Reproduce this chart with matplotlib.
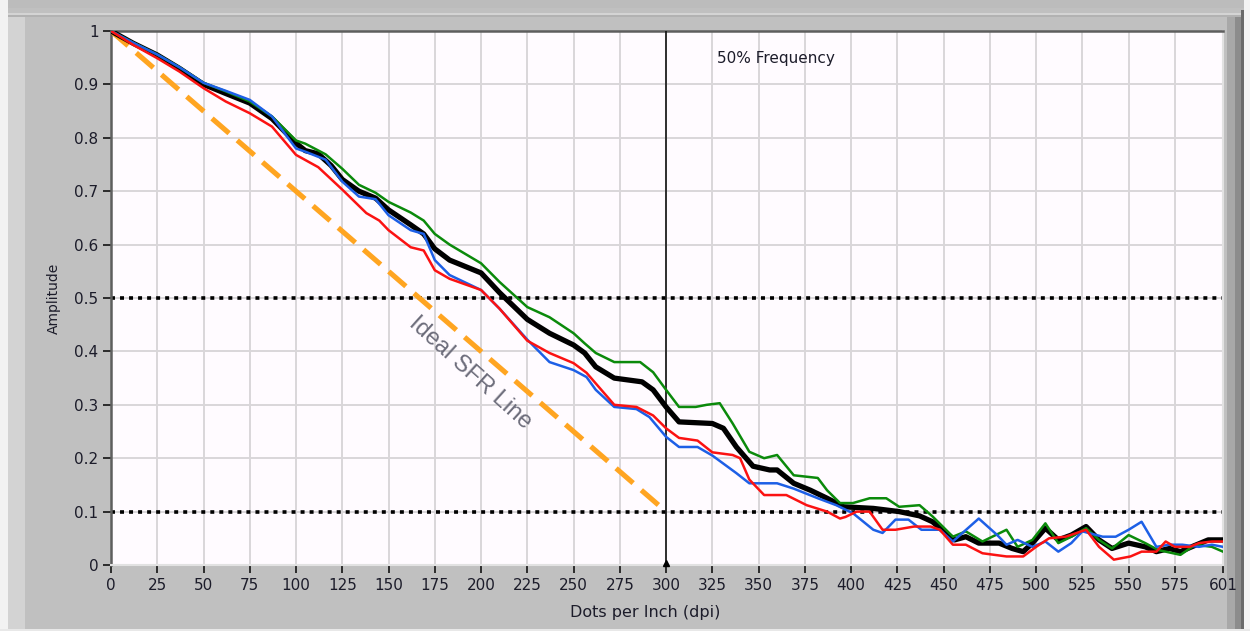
#!/usr/bin/env python3
"""Spatial frequency response (SFR) curves for the three colour channels and their mean."""
from __future__ import annotations

import matplotlib

matplotlib.use("Agg")
import matplotlib.pyplot as plt
from matplotlib.patches import Rectangle

OUTPUT = "out.png"

# mean response (thick black)
MEAN_X = [0, 12, 25, 37, 50, 62, 75, 87, 100, 105, 112, 119, 125, 134, 143, 150, 162, 169,
          175, 183, 200, 210, 225, 237, 250, 256, 262, 272, 287, 293, 300, 307, 325, 331,
          338, 347, 356, 360, 369, 378, 387, 396, 412, 426, 437, 444, 450, 456, 462, 469,
          480, 487, 493, 498, 505, 512, 519, 527, 534, 541, 550, 559, 565, 572, 578, 584,
          593, 601]
MEAN_Y = [1.0, 0.977, 0.955, 0.930, 0.900, 0.883, 0.865, 0.836, 0.790, 0.776, 0.770, 0.748,
          0.722, 0.700, 0.687, 0.665, 0.637, 0.620, 0.592, 0.571, 0.547, 0.510, 0.460, 0.434,
          0.412, 0.397, 0.371, 0.350, 0.343, 0.328, 0.296, 0.268, 0.265, 0.256, 0.221, 0.185,
          0.178, 0.178, 0.153, 0.140, 0.125, 0.109, 0.106, 0.100, 0.092, 0.081, 0.063, 0.047,
          0.053, 0.041, 0.041, 0.031, 0.025, 0.041, 0.069, 0.047, 0.056, 0.072, 0.047, 0.031,
          0.041, 0.034, 0.025, 0.031, 0.025, 0.034, 0.047, 0.047]

GREEN_X = [0, 12, 25, 37, 50, 62, 75, 87, 100, 105, 116, 125, 134, 143, 150, 162, 169, 175,
           183, 200, 210, 225, 237, 250, 256, 262, 272, 286, 293, 300, 307, 316, 322, 329,
           336, 345, 353, 360, 369, 382, 387, 394, 401, 410, 419, 426, 437, 444, 455, 462,
           471, 484, 490, 498, 505, 512, 519, 527, 534, 541, 550, 559, 566, 578, 586, 595,
           601]
GREEN_Y = [1.0, 0.978, 0.956, 0.932, 0.903, 0.887, 0.868, 0.840, 0.795, 0.789, 0.769, 0.742,
           0.712, 0.697, 0.680, 0.660, 0.645, 0.620, 0.600, 0.565, 0.530, 0.483, 0.464, 0.434,
           0.415, 0.397, 0.380, 0.380, 0.361, 0.328, 0.296, 0.296, 0.300, 0.303, 0.265, 0.212,
           0.200, 0.206, 0.168, 0.163, 0.140, 0.116, 0.116, 0.125, 0.125, 0.109, 0.112, 0.091,
           0.053, 0.063, 0.044, 0.066, 0.034, 0.047, 0.078, 0.041, 0.053, 0.069, 0.047, 0.031,
           0.056, 0.041, 0.028, 0.019, 0.038, 0.034, 0.025]

BLUE_X = [0, 12, 25, 37, 50, 62, 75, 87, 100, 105, 116, 125, 134, 143, 150, 162, 169, 175,
          183, 200, 210, 225, 237, 250, 257, 262, 272, 284, 291, 300, 307, 317, 325, 338, 345,
          356, 360, 369, 382, 392, 401, 412, 417, 424, 431, 438, 448, 455, 469, 479, 484, 490,
          498, 505, 512, 519, 525, 536, 543, 550, 557, 565, 572, 579, 588, 595, 601]
BLUE_Y = [1.0, 0.978, 0.956, 0.932, 0.903, 0.888, 0.871, 0.840, 0.780, 0.774, 0.759, 0.718,
          0.690, 0.685, 0.655, 0.627, 0.620, 0.571, 0.543, 0.515, 0.480, 0.422, 0.380, 0.365,
          0.352, 0.328, 0.296, 0.292, 0.277, 0.240, 0.221, 0.221, 0.205, 0.172, 0.153, 0.153,
          0.153, 0.143, 0.125, 0.112, 0.097, 0.066, 0.060, 0.085, 0.085, 0.066, 0.066, 0.044,
          0.087, 0.056, 0.038, 0.047, 0.034, 0.044, 0.025, 0.041, 0.063, 0.053, 0.053, 0.066,
          0.081, 0.034, 0.038, 0.038, 0.034, 0.038, 0.034]

RED_X = [0, 12, 25, 37, 50, 62, 75, 87, 100, 112, 125, 138, 145, 150, 162, 169, 175, 183,
         200, 210, 225, 237, 250, 257, 262, 272, 284, 293, 300, 307, 317, 325, 336, 340, 345,
         353, 365, 376, 387, 394, 397, 403, 410, 417, 424, 434, 443, 448, 455, 462, 471, 484,
         493, 500, 507, 516, 527, 534, 542, 551, 557, 565, 570, 575, 583, 588, 595, 601]
RED_Y = [1.0, 0.974, 0.949, 0.924, 0.893, 0.868, 0.846, 0.821, 0.768, 0.745, 0.703, 0.659,
         0.645, 0.627, 0.595, 0.589, 0.552, 0.536, 0.515, 0.480, 0.420, 0.397, 0.378, 0.360,
         0.340, 0.300, 0.296, 0.280, 0.256, 0.238, 0.233, 0.211, 0.206, 0.200, 0.160, 0.131,
         0.131, 0.112, 0.100, 0.087, 0.090, 0.100, 0.100, 0.066, 0.066, 0.072, 0.072, 0.066,
         0.038, 0.038, 0.022, 0.016, 0.016, 0.034, 0.050, 0.053, 0.066, 0.034, 0.010, 0.016,
         0.025, 0.025, 0.044, 0.034, 0.034, 0.041, 0.044, 0.044]

# ideal SFR reference line and marker levels
IDEAL_X = [0, 300]
IDEAL_Y = [1.0, 0.1]
FREQ_50_DPI = 300
LEVELS = [0.5, 0.1]

X_TICKS = [0, 25, 50, 75, 100, 125, 150, 175, 200, 225, 250, 275, 300, 325, 350, 375,
           400, 425, 450, 475, 500, 525, 550, 575, 601]
Y_TICKS = [0, 0.1, 0.2, 0.3, 0.4, 0.5, 0.6, 0.7, 0.8, 0.9, 1.0]
Y_TICK_LABELS = ["0", "0.1", "0.2", "0.3", "0.4", "0.5", "0.6", "0.7", "0.8", "0.9", "1"]

TEXT_COLOR = "#1c1c2a"
FRAME = "#c0c0c0"


def draw_frame(fig: plt.Figure) -> None:
    # panel border around the graph area (figure-fraction coordinates)
    W, H = 1250, 631
    boxes = [
        (0, 0, W, H, FRAME),
        (0, H - 8, W, 8, "#bcbcbc"),
        (8, H - 17, 1235, 3, "#b2b2b2"),
        (8, H - 15, 1235, 2, "#d4d4d4"),
        (8, 0, 17, H - 17, "#d3d3d3"),
        (0, 0, 8, H, "#f2f2f2"),
        (1227, 0, 8, H - 17, "#a8a8a8"),
        (1235, 0, 6, H - 17, "#8c8c8c"),
        (1241, 0, 3, H - 10, "#6a6a6a"),
        (1244, 0, 6, H, "#f4f4f4"),
        (0, 0, W, 2, "#e8e8e8"),
    ]
    for x, y, w, h, c in boxes:
        fig.patches.append(Rectangle((x / W, y / H), w / W, h / H, transform=fig.transFigure,
                                     facecolor=c, edgecolor="none", zorder=-10))


def main() -> None:
    plt.rcParams["font.family"] = ["DejaVu Sans"]
    fig = plt.figure(figsize=(12.5, 6.31), dpi=100)
    draw_frame(fig)

    ax = fig.add_axes([111 / 1250, 66 / 631, 1112 / 1250, 534 / 631])
    ax.set_facecolor("#fffbff")
    ax.set_xlim(0, 601)
    ax.set_ylim(0, 1)

    ax.set_xticks(X_TICKS)
    ax.set_xticklabels([str(t) for t in X_TICKS])
    ax.set_yticks(Y_TICKS)
    ax.set_yticklabels(Y_TICK_LABELS)
    ax.tick_params(direction="out", length=6, width=1.3, color="#202020", labelsize=11,
                   labelcolor=TEXT_COLOR, pad=3)
    ax.grid(True, color="#d9d6d9", linewidth=1.4, zorder=0)
    ax.set_axisbelow(True)

    for side in ("left", "top"):
        ax.spines[side].set_color("#5e5e5e")
        ax.spines[side].set_linewidth(1.8)
    for side in ("right", "bottom"):
        ax.spines[side].set_color("#e2e2e2")
        ax.spines[side].set_linewidth(1.5)

    for level in LEVELS:
        ax.axhline(level, color="black", linewidth=2.6, linestyle=(0, (1.1, 1.4)), zorder=2)

    ax.plot(IDEAL_X, IDEAL_Y, color="#ffa521", linewidth=3.7, linestyle=(0, (4.4, 2.1)),
            zorder=3)
    ax.text(194, 0.36, "Ideal SFR Line", rotation=-42, rotation_mode="anchor",
            ha="center", va="center", fontsize=17, color="#6c6c7a", family="Liberation Sans",
            zorder=3)

    ax.axvline(FREQ_50_DPI, color="#111111", linewidth=1.2, zorder=4)
    ax.plot([FREQ_50_DPI], [0.004], marker="^", markersize=5, color="black", clip_on=False,
            zorder=6)
    ax.text(327.5, 0.949, "50% Frequency", fontsize=11, color=TEXT_COLOR, ha="left",
            va="center")

    ax.plot(MEAN_X, MEAN_Y, color="black", linewidth=3.8, solid_joinstyle="round", zorder=5)
    ax.plot(GREEN_X, GREEN_Y, color="#0b8a0b", linewidth=1.8, zorder=6)
    ax.plot(BLUE_X, BLUE_Y, color="#1d5fe6", linewidth=1.8, zorder=6)
    ax.plot(RED_X, RED_Y, color="#fb1212", linewidth=1.8, zorder=7)

    ax.set_xlabel("Dots per Inch (dpi)", fontsize=11.5, color=TEXT_COLOR)
    ax.set_ylabel("Amplitude", fontsize=10, color=TEXT_COLOR)
    ax.xaxis.set_label_coords(0.48, -0.075)
    ax.yaxis.set_label_coords(-0.045, 0.5)

    fig.savefig(OUTPUT, dpi=100)
    plt.close(fig)


if __name__ == "__main__":
    main()
